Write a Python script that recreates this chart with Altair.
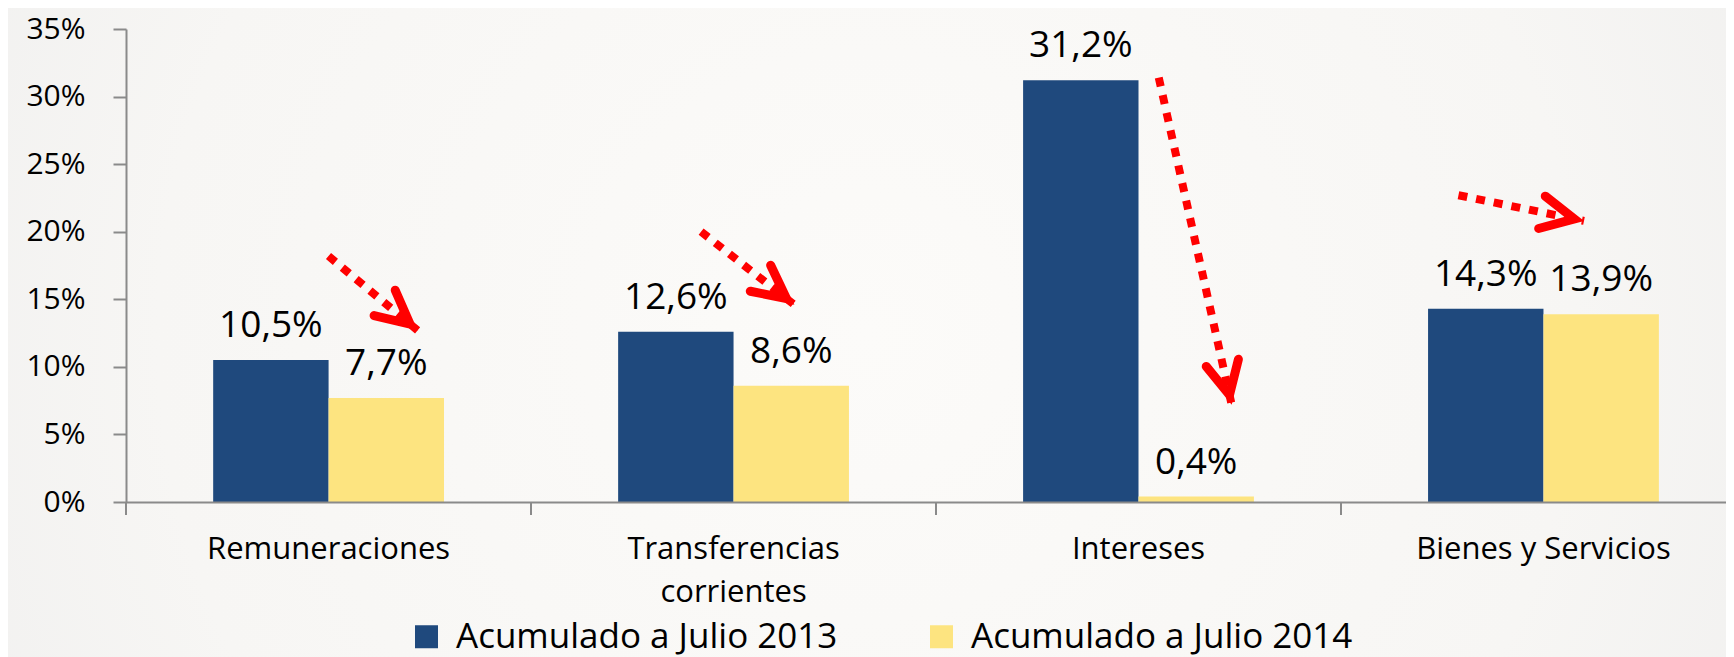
import math
import altair as alt
import pandas as pd

# ---------------- data ----------------
categories = ["Remuneraciones", "Transferencias corrientes", "Intereses", "Bienes y Servicios"]
series = ["Acumulado a Julio 2013", "Acumulado a Julio 2014"]
values_2013 = [10.5, 12.6, 31.2, 14.3]
values_2014 = [7.7, 8.6, 0.4, 13.9]
colors = ["#1F497D", "#FDE480"]
y_ticks = [0, 5, 10, 15, 20, 25, 30, 35]

# annotation arrows: x in category-step units (0 = left edge of first category), y in percent
arrow_x_start = [0.50, 1.42, 2.55, 3.29]
arrow_y_start = [18.2, 20.0, 31.4, 22.7]
arrow_x_end = [0.72, 1.65, 2.73, 3.60]
arrow_y_end = [12.7, 14.6, 7.2, 20.8]
category_boundaries = [0, 1, 2, 3]

# ---------------- layout ----------------
W, H = 1600, 473
PAD_L, PAD_T, PAD_B = 118, 21, 160
STEP = 405.0          # pixel width of one category slot
Y_MAX = 35
FONT = "Open Sans"
GREY = "#8A8A8A"

rows = []
for c, v13, v14 in zip(categories, values_2013, values_2014):
    for s, v in zip(series, [v13, v14]):
        rows.append({"cat": c, "series": s, "value": v,
                     "label": f"{v:.1f}".replace(".", ",") + "%"})
bars_df = pd.DataFrame(rows)

arr = []
for x0, y0, x1, y1 in zip(arrow_x_start, arrow_y_start, arrow_x_end, arrow_y_end):
    dx = (x1 - x0) * STEP
    dy = (y0 - y1) * H / Y_MAX
    ang = math.degrees(math.atan2(dy, dx)) % 360
    arr.append({"x0": x0, "y0": y0, "x1": x1, "y1": y1, "ang": ang})
arrows_df = pd.DataFrame(arr)
ticks_df = pd.DataFrame({"b": category_boundaries})
bg_df = pd.DataFrame({"k": [0]})

x_band = alt.Scale(domain=categories, paddingInner=0.43, paddingOuter=0.1905, align=0.565)
x_off = alt.Scale(domain=series, paddingInner=0, paddingOuter=0)
y_scale = alt.Scale(domain=[0, Y_MAX], nice=False, zero=True)
x_lin = alt.Scale(domain=[0, W / STEP], nice=False, zero=False)

label_expr = "datum.label == 'Transferencias corrientes' ? ['Transferencias', 'corrientes'] : datum.label"

y_axis = alt.Axis(title=None, values=y_ticks, labelExpr="datum.value + '%'", orient="left",
                  grid=False, tickSize=13, tickWidth=2, tickColor=GREY,
                  domainColor=GREY, domainWidth=2, labelFontSize=30,
                  labelFont=FONT, labelColor="#000000", labelPadding=28, zindex=1)

background = alt.Chart(bg_df).mark_rect(
    fill=alt.RadialGradient(
        gradient="radial", x1=0.5, y1=0.5, r1=0, x2=0.5, y2=0.5, r2=0.75,
        stops=[alt.GradientStop(color="#FCFBF9", offset=0),
               alt.GradientStop(color="#F7F6F4", offset=0.55),
               alt.GradientStop(color="#EBEBEB", offset=1)]),
).encode(
    x=alt.value(-PAD_L), x2=alt.value(W),
    y=alt.value(-PAD_T), y2=alt.value(H + PAD_B),
)

bars = alt.Chart(bars_df).mark_bar().encode(
    x=alt.X("cat:N", scale=x_band, sort=categories,
            axis=alt.Axis(title=None, ticks=False, tickSize=0, labelAngle=0,
                          labelFontSize=31, labelFont=FONT, labelColor="#000000",
                          labelPadding=32, labelLineHeight=43, labelExpr=label_expr,
                          domainColor=GREY, domainWidth=2, labelLimit=400, zindex=1)),
    xOffset=alt.XOffset("series:N", scale=x_off, sort=series),
    y=alt.Y("value:Q", scale=y_scale, axis=y_axis),
    color=alt.Color("series:N", scale=alt.Scale(domain=series, range=colors),
                    legend=alt.Legend(title=None, orient="none", legendX=283, legendY=590,
                                      direction="horizontal", symbolType="square",
                                      symbolSize=529, symbolStrokeWidth=0,
                                      labelFontSize=35, labelFont=FONT, labelColor="#000000",
                                      labelOffset=12, columnPadding=86, labelLimit=1000,
                                      padding=0, zindex=1)),
)

texts = alt.Chart(bars_df).mark_text(
    fontSize=37, font=FONT, color="#000000", baseline="alphabetic", align="center", dy=-23
).encode(
    x=alt.X("cat:N", scale=x_band, sort=categories, axis=None),
    xOffset=alt.XOffset("series:N", scale=x_off, sort=series),
    y=alt.Y("value:Q", scale=y_scale, axis=y_axis),
    text="label:N",
)

ticks = alt.Chart(ticks_df).mark_rule(color=GREY, strokeWidth=2).encode(
    x=alt.X("b:Q", scale=x_lin, axis=None),
    y=alt.value(H),
    y2=alt.value(H + 13),
)

dotted = alt.Chart(arrows_df).mark_rule(
    color="#FF0000", strokeWidth=8, strokeDash=[9, 9], strokeCap="butt"
).encode(
    x=alt.X("x0:Q", scale=x_lin, axis=None),
    x2="x1:Q",
    y=alt.Y("y0:Q", scale=y_scale, axis=y_axis),
    y2="y1:Q",
)

heads = alt.Chart(arrows_df).mark_point(
    shape="M-1.3,-0.5L-0.3,0L-1.3,0.5", filled=False, strokeWidth=9, color="#FF0000",
    size=4356, opacity=1, strokeCap="round", strokeJoin="miter"
).encode(
    x=alt.X("x1:Q", scale=x_lin, axis=None),
    y=alt.Y("y1:Q", scale=y_scale, axis=y_axis),
    angle=alt.Angle("ang:Q", scale=None),
)

chart = alt.layer(background, bars, texts, ticks, dotted, heads).resolve_scale(
    x="independent"
).properties(
    width=W, height=H,
    autosize=alt.AutoSizeParams(type="none"),
    padding={"left": PAD_L, "top": PAD_T, "right": 0, "bottom": PAD_B},
    background="#F3F2F0",
).configure_view(stroke=None)

chart.save("out.html", embed_options={"renderer": "svg", "actions": False})
